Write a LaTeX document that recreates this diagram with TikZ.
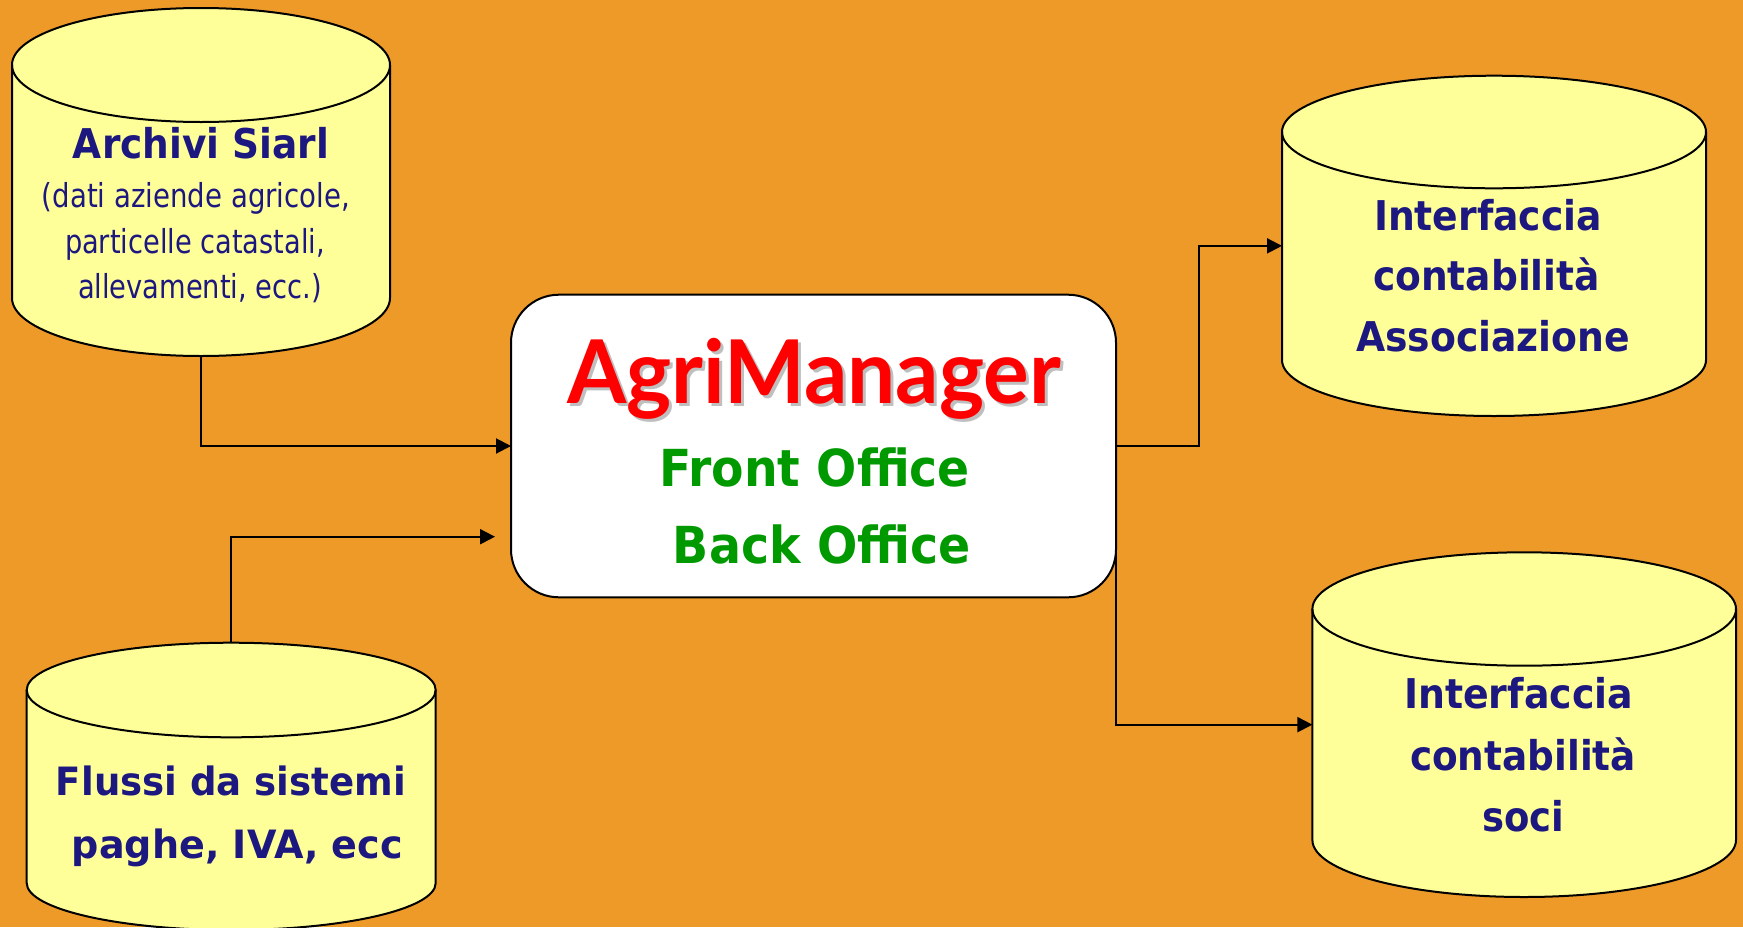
\documentclass[tikz,border=0pt]{standalone}
\usepackage{fontspec}
\usepackage{graphicx}
\usetikzlibrary{arrows.meta}
\setmainfont{DejaVu Sans}
\newfontfamily\logofont{Lato}
\definecolor{bgorange}{HTML}{EE9A29}
\definecolor{cylyellow}{HTML}{FFFF99}
\definecolor{navytext}{HTML}{1C1880}
\definecolor{greentext}{HTML}{009900}
\definecolor{logored}{HTML}{FF0000}
\newcommand{\fs}[1]{\fontsize{#1}{#1}\selectfont}
% name, x0, x1, top, sidetop, sidebottom, bottom
\newcommand{\cylinderdb}[7]{%
  \pgfmathsetmacro{\cxa}{(#2+#3)/2}%
  \pgfmathsetmacro{\rxa}{(#3-#2)/2}%
  \pgfmathsetmacro{\rya}{#5-#4}%
  \pgfmathsetmacro{\ryb}{#7-#6}%
  \pgfmathsetmacro{\cya}{(#4+#7)/2}%
  \pgfmathsetmacro{\hga}{#7-#4}%
  \draw[cyl] (#2,#5) arc[start angle=180,end angle=360,x radius=\rxa,y radius=\rya]
     -- (#3,#6) arc[start angle=0,end angle=180,x radius=\rxa,y radius=\ryb] -- cycle;
  \draw[cyl,fill=none] (#2,#5) arc[start angle=180,end angle=0,x radius=\rxa,y radius=\rya];
  \node[holder,minimum width=#3 pt-#2 pt,minimum height=\hga pt] (#1) at (\cxa,\cya) {};
}
% name, centre x, baseline y, width, style, size, text
\newcommand{\lab}[7]{%
  \node[txt,#5] (#1) at (#2,#3) {\fs{#6}\resizebox{#4pt}{\height}{#7}};
}
\tikzset{
  cyl/.style={draw=black,line width=2pt,fill=cylyellow},
  holder/.style={inner sep=0pt,outer sep=0pt},
  txt/.style={anchor=base,inner sep=0pt,outer sep=0pt},
  navyb/.style={text=navytext,font=\bfseries},
  navyr/.style={text=navytext},
  greenb/.style={text=greentext,font=\bfseries},
  conn/.style={draw=black,line width=2pt,-{Triangle[length=15pt,width=15pt]}},
  mainbox/.style={draw=black,line width=2pt,fill=white,rounded corners=48pt,
     minimum width=605pt,minimum height=302.6pt,inner sep=0pt,outer sep=0pt},
}
\begin{document}
\begin{tikzpicture}[x=1pt,y=-1pt]
\useasboundingbox (0,0) rectangle (1743,927);
\fill[bgorange] (0,0) rectangle (1743,927);
\cylinderdb{siarl}{12}{390}{8}{65}{298}{356}
\cylinderdb{assoc}{1282}{1706}{75.7}{132}{360}{416}
\cylinderdb{soci}{1312.4}{1736}{552.3}{609}{840}{897}
\cylinderdb{flussi}{26.7}{435.7}{642.7}{690}{883}{930}
\node[mainbox] (agri) at (813.5,446) {};
% connectors
\coordinate (flussiend) at (495,536.7);
\coordinate (agrilow) at (1116,506);
\draw[conn] (siarl.south) |- (agri.west);
\draw[conn] (flussi.north) |- (flussiend);
\draw[conn] (agri.east) -- ++(83,0) |- (assoc.west);
\draw[conn] (agrilow) |- (soci.west);
% texts
\lab{t1}{201}{158}{256}{navyb}{41}{Archivi Siarl}
\lab{t2}{196}{207}{308}{navyr}{33}{(dati aziende agricole,}
\lab{t3}{195}{253}{260}{navyr}{33}{particelle catastali,}
\lab{t4}{200}{298}{244}{navyr}{33}{allevamenti, ecc.)}
\lab{t5}{1488}{230}{228}{navyb}{41}{Interfaccia}
\lab{t6}{1486.5}{290.7}{227}{navyb}{41}{contabilità}
\lab{t7}{1493}{351.7}{274}{navyb}{41}{Associazione}
\lab{t8}{1518.5}{708}{229}{navyb}{41}{Interfaccia}
\lab{t9}{1523}{770}{226}{navyb}{41}{contabilità}
\lab{t10}{1523}{831}{82}{navyb}{41}{soci}
\lab{t11}{231}{795}{350}{navyb}{39}{Flussi da sistemi}
\lab{t12}{237.5}{858}{331}{navyb}{39}{paghe, IVA, ecc}
\lab{t13}{817}{406}{494}{text=black!25,font=\logofont\bfseries}{88}{AgriManager}
\lab{t14}{814}{403}{494}{text=logored,font=\logofont\bfseries}{88}{AgriManager}
\lab{t15}{814.5}{486}{311}{greenb}{51}{Front Office}
\lab{t16}{822}{563}{298}{greenb}{51}{Back Office}
\end{tikzpicture}
\end{document}
